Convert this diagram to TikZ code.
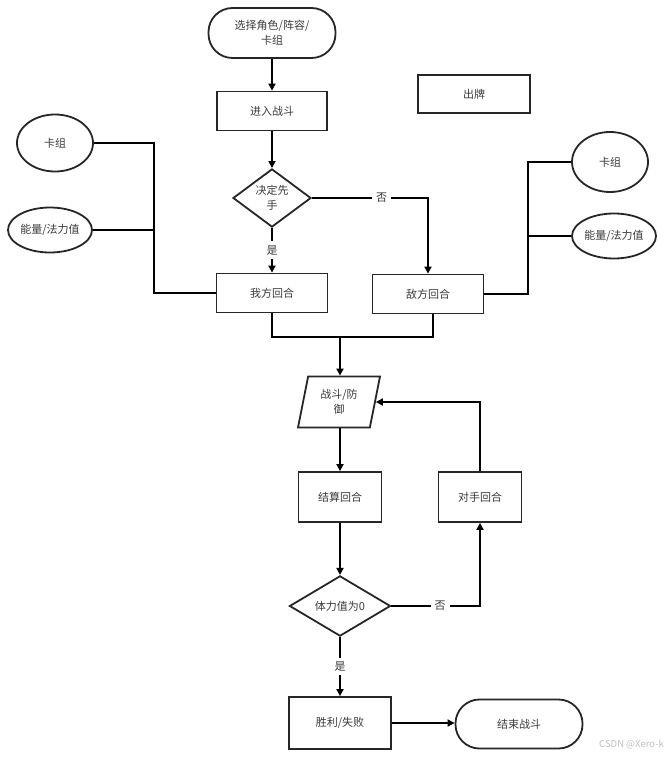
\documentclass[tikz,border=0pt]{standalone}
\usepackage{fontspec}
\setmainfont{Noto Sans CJK SC}
\usetikzlibrary{shapes.geometric,arrows.meta}
\definecolor{txt}{HTML}{3A3A3A}
\tikzset{
  box/.style={draw=black!85, line width=1.8pt, rectangle, inner sep=0pt, text=txt, font=\fontsize{11}{15}\selectfont, align=center},
  term/.style={box, rounded corners=24pt},
  dia/.style={draw=black!85, line width=1.8pt, diamond, inner sep=0pt, text=txt, font=\fontsize{11}{15}\selectfont, align=center},
  ell/.style={draw=black!85, line width=1.8pt, ellipse, inner sep=0pt, text=txt, font=\fontsize{11}{15}\selectfont},
  para/.style={draw=black!85, line width=1.8pt, trapezium, trapezium left angle=68, trapezium right angle=112, trapezium stretches body=true, inner sep=0pt, text=txt, font=\fontsize{11}{15}\selectfont, align=center},
  conn/.style={line width=1.7pt, black},
  arr/.style={conn, -{Triangle[width=7pt,length=7pt]}},
  lab/.style={fill=white, text=txt, font=\fontsize{11}{13}\selectfont, inner sep=4pt}
}
\begin{document}
\begin{tikzpicture}[x=1pt,y=-1pt]
\useasboundingbox (0,0) rectangle (666,759);
\node[term, minimum width=127, minimum height=50] (start) at (272,33) {选择角色/阵容/\\卡组};
\node[box, minimum width=110, minimum height=39] (enter) at (272,111) {进入战斗};
\node[box, minimum width=112, minimum height=38] (play) at (474,94) {出牌};
\node[dia, minimum width=78, minimum height=56] (first) at (272,198) {决定先\\手};
\node[box, minimum width=111, minimum height=39] (mine) at (272,293) {我方回合};
\node[box, minimum width=111, minimum height=39] (enemy) at (428,294) {敌方回合};
\node[ell, minimum width=76, minimum height=57] (lcard) at (55,143) {卡组};
\node[ell, minimum width=84, minimum height=45] (lmana) at (50,230) {能量/法力值};
\node[ell, minimum width=76, minimum height=60] (rcard) at (610,162) {卡组};
\node[ell, minimum width=84, minimum height=45] (rmana) at (614,236) {能量/法力值};
\node[para, minimum width=82, minimum height=51] (fight) at (339,402) {战斗/防\\御};
\node[box, minimum width=83, minimum height=50] (settle) at (340,497) {结算回合};
\node[box, minimum width=83, minimum height=50] (opp) at (480,497) {对手回合};
\node[dia, minimum width=101, minimum height=60] (hp) at (340,606) {体力值为0};
\node[box, minimum width=102, minimum height=52] (result) at (340,723) {胜利/失败};
\node[term, minimum width=127, minimum height=49] (finish) at (519,724) {结束战斗};
\node[text=black!25, font=\fontsize{9.5}{11}\selectfont, anchor=east, inner sep=0pt] (wm) at (664,745) {CSDN @Xero-k};

\coordinate (lj) at (154,293);
\coordinate (rj) at (528,294);
\coordinate (mj) at (340,337);

\draw[arr] (start) -- (enter);
\draw[arr] (enter) -- (first);
\draw[arr] (first.south) -- node[lab] {是} (mine.north);
\draw[arr] (first.east) -- node[lab, pos=0.6] {否} (428,198) -- (enemy.north);
\draw[conn] (lcard.east) -| (lj) -- (mine.west);
\draw[conn] (lmana.east) -- (lmana.east -| lj);
\draw[conn] (enemy.east) -- (rj) |- (rcard.west);
\draw[conn] (rmana.west) -- (rmana.west -| rj);
\draw[conn] (mine.south) |- (mj) -| (433,314);
\draw[arr] (mj) -- (fight.north -| mj);
\draw[arr] (fight.south -| settle) -- (settle.north);
\draw[arr] (opp.north) |- (fight.east);
\draw[arr] (settle.south) -- (hp.north);
\draw[arr] (hp.east) -- node[lab, pos=0.55] {否} (hp.east -| opp) -- (opp.south);
\draw[arr] (hp.south) -- node[lab] {是} (result.north);
\draw[arr] (result.east) -- (result.east -| finish.west);
\end{tikzpicture}
\end{document}
